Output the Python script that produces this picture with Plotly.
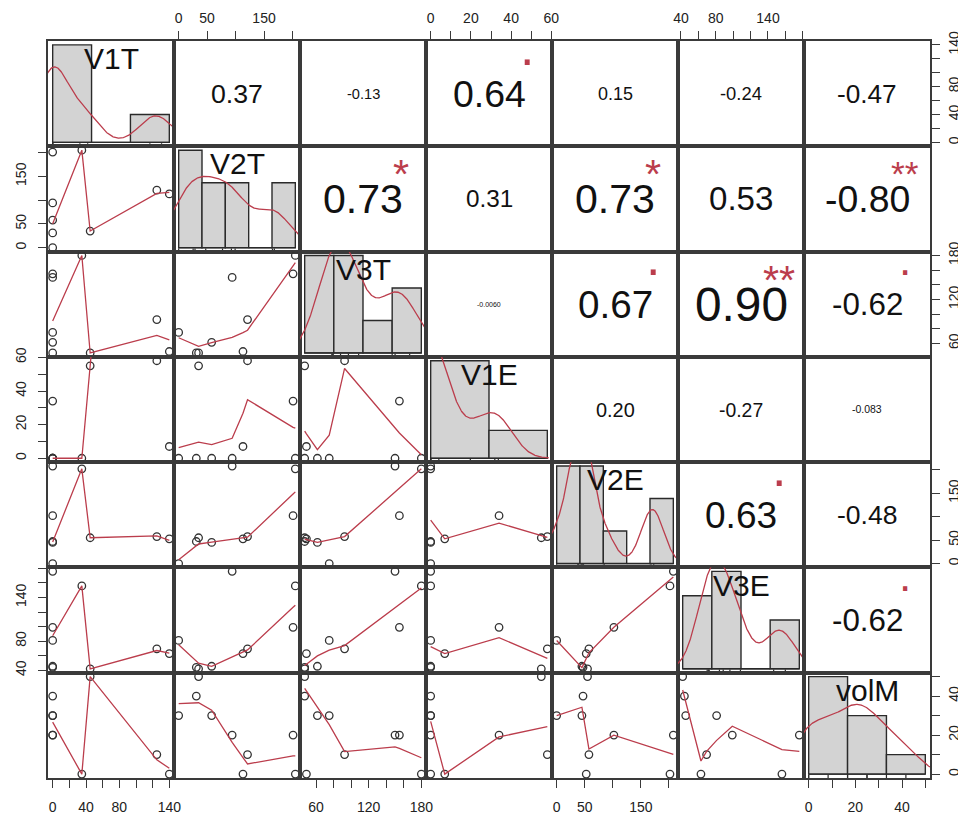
import numpy as np
import plotly.graph_objects as go

names = ["V1T", "V2T", "V3T", "V1E", "V2E", "V3E", "volM"]
V1T = [0, 0, 0, 0, 0, 35, 45, 125, 140]
V2T = [201, 94, 58, 31, 0, 205, 35, 121, 113]
V3T = [155, 150, 61.5, 47, 75, 180, 47, 92.5, 49]
V1E = [34, 0, 0, 0, 0, 0, 55, 58, 7]
V2E = [102, 208, 45, 47, 0, 202, 55, 57.5, 52.7]
V3E = [99, 176, 45.5, 44, 81, 156, 42, 69.5, 63]
volM = [20, 20, 30, 40, 30, 0, 50, 10, 0]
columns = [V1T, V2T, V3T, V1E, V2E, V3E, volM]

# histogram breaks (as drawn on the diagonal)
breaks_V1T = [0, 50, 100, 150]
breaks_V2T = [0, 50, 100, 150, 200, 250]
breaks_V3T = [0, 50, 100, 150, 200]
breaks_V1E = [0, 50, 100]
breaks_V2E = [0, 50, 100, 150, 200, 250]
breaks_V3E = [0, 50, 100, 150, 200]
breaks_volM = [0, 20, 40, 60]
hist_breaks = [breaks_V1T, breaks_V2T, breaks_V3T, breaks_V1E, breaks_V2E, breaks_V3E, breaks_volM]

# axis ticks and tick labels
ticks_V1T = [0, 20, 40, 60, 80, 100, 120, 140]
labels_V1T = ["0", "", "40", "", "80", "", "", "140"]
ticks_V2T = [0, 50, 100, 150, 200]
labels_V2T = ["0", "50", "", "150", ""]
ticks_V3T = [60, 80, 100, 120, 140, 160, 180]
labels_V3T = ["60", "", "", "120", "", "", "180"]
ticks_V1E = [0, 10, 20, 30, 40, 50, 60]
labels_V1E = ["0", "", "20", "", "40", "", "60"]
ticks_V2E = [0, 50, 100, 150, 200]
labels_V2E = ["0", "50", "", "150", ""]
ticks_V3E = [40, 60, 80, 100, 120, 140, 160, 180]
labels_V3E = ["40", "", "80", "", "", "140", "", ""]
ticks_volM = [0, 10, 20, 30, 40, 50]
labels_volM = ["0", "", "20", "", "40", ""]
tick_vals = [ticks_V1T, ticks_V2T, ticks_V3T, ticks_V1E, ticks_V2E, ticks_V3E, ticks_volM]
tick_text = [labels_V1T, labels_V2T, labels_V3T, labels_V1E, labels_V2E, labels_V3E, labels_volM]

# correlation labels (upper triangle, row by row) and significance symbols
cor_labels = [
    ["0.37", "-0.13", "0.64", "0.15", "-0.24", "-0.47"],
    ["0.73", "0.31", "0.73", "0.53", "-0.80"],
    ["-0.0060", "0.67", "0.90", "-0.62"],
    ["0.20", "-0.27", "-0.083"],
    ["0.63", "-0.48"],
    ["-0.62"],
]
cor_stars = [
    ["", "", ".", "", "", ""],
    ["*", "", "*", "", "**"],
    ["", ".", "**", "."],
    ["", "", ""],
    [".", ""],
    ["."],
]

# ---------------- helpers -------------
N = 7
# the page adds an 8px body margin, so the figure is 8px smaller and shifted
FIG_W, FIG_H = 958, 808
ML, MR, MT, MB = 40, 36, 33, 38
PANEL_W = (FIG_W - ML - MR) / N
LINE_C = "#3a3a3a"
SMOOTH_C = "#bb3d4c"
FONT = "Liberation Sans, Arial, Helvetica, sans-serif"


def ext(v):
    lo, hi = min(v), max(v)
    d = hi - lo
    return [lo - 0.04 * d, hi + 0.04 * d]


def axid(k):
    return "" if k == 1 else str(k)


ADV = {c: 0.556 for c in "0123456789"}
ADV.update({".": 0.278, "-": 0.333, "*": 0.389})


def em_width(s):
    return sum(ADV.get(c, 0.556) for c in s)


def _lowest(x, y, n, xs, nleft, nright, w, userw, rw):
    rng = x[n - 1] - x[0]
    h = max(xs - x[nleft], x[nright] - xs)
    h9, h1 = 0.999 * h, 0.001 * h
    a = 0.0
    j = nleft
    while j < n:
        w[j] = 0.0
        r = abs(x[j] - xs)
        if r <= h9:
            w[j] = 1.0 if r <= h1 else (1 - (r / h) ** 3) ** 3
            if userw:
                w[j] *= rw[j]
            a += w[j]
        elif x[j] > xs:
            break
        j += 1
    nrt = j - 1
    if a <= 0:
        return None
    for j in range(nleft, nrt + 1):
        w[j] /= a
    if h > 0:
        a = sum(w[j] * x[j] for j in range(nleft, nrt + 1))
        b = xs - a
        c = sum(w[j] * (x[j] - a) ** 2 for j in range(nleft, nrt + 1))
        if np.sqrt(c) > 0.001 * rng:
            b /= c
            for j in range(nleft, nrt + 1):
                w[j] *= (b * (x[j] - a) + 1)
    return sum(w[j] * y[j] for j in range(nleft, nrt + 1))


def lowess(xv, yv, f=2 / 3, nsteps=3):
    order = np.argsort(np.asarray(xv, float), kind="stable")
    x = [float(xv[o]) for o in order]
    y = [float(yv[o]) for o in order]
    n = len(x)
    delta = 0.01 * (x[-1] - x[0])
    ys = [0.0] * n
    rw = [1.0] * n
    w = [0.0] * n
    ns = max(2, min(n, int(f * n + 1e-7)))
    it = 1
    while it <= nsteps + 1:
        nleft, nright, last, i = 0, ns - 1, -1, 0
        while True:
            if nright < n - 1:
                d1 = x[i] - x[nleft]
                d2 = x[nright + 1] - x[i]
                if d1 > d2:
                    nleft += 1
                    nright += 1
                    continue
            val = _lowest(x, y, n, x[i], nleft, nright, w, it > 1, rw)
            ys[i] = y[i] if val is None else val
            if last < i - 1:
                denom = x[i] - x[last]
                for j in range(last + 1, i):
                    al = (x[j] - x[last]) / denom
                    ys[j] = al * ys[i] + (1 - al) * ys[last]
            last = i
            cut = x[last] + delta
            i = last + 1
            while i < n:
                if x[i] > cut:
                    break
                if x[i] == x[last]:
                    ys[i] = ys[last]
                    last = i
                i += 1
            i = max(last + 1, i - 1)
            if last >= n - 1:
                break
        res = [y[k] - ys[k] for k in range(n)]
        sc = sum(abs(r) for r in res) / n
        if it > nsteps:
            break
        srt = sorted(abs(r) for r in res)
        m1 = n // 2
        if n % 2 == 0:
            cmad = 3 * (srt[m1] + srt[n - m1 - 1])
        else:
            cmad = 6 * srt[m1]
        if cmad < 1e-7 * sc:
            break
        c9, c1 = 0.999 * cmad, 0.001 * cmad
        for k in range(n):
            r = abs(res[k])
            rw[k] = 1.0 if r <= c1 else ((1 - (r / cmad) ** 2) ** 2 if r <= c9 else 0.0)
        it += 1
    return x, ys


def density(v):
    x = np.asarray(v, float)
    n = len(x)
    hi = np.std(x, ddof=1)
    q75, q25 = np.percentile(x, [75, 25])
    lo = min(hi, (q75 - q25) / 1.34)
    if lo == 0:
        lo = hi if hi else (abs(x[0]) if x[0] else 1.0)
    bw = 0.9 * lo * n ** (-0.2)
    grid = np.linspace(x.min() - 3 * bw, x.max() + 3 * bw, 512)
    d = np.exp(-0.5 * ((grid[:, None] - x[None, :]) / bw) ** 2).sum(1) / (n * bw * np.sqrt(2 * np.pi))
    return grid, d


def rhist(v, br):
    counts = []
    for a in range(len(br) - 1):
        lo, hi = br[a], br[a + 1]
        counts.append(sum(1 for t in v if (t > lo or (a == 0 and t >= lo)) and t <= hi))
    n = len(v)
    dens = [c / (n * (br[a + 1] - br[a])) for a, c in enumerate(counts)]
    return dens


# ---------------- figure -------------
fig = go.Figure()
layout = dict(
    width=FIG_W, height=FIG_H,
    margin=dict(l=ML, r=MR, t=MT, b=MB, pad=0, autoexpand=False),
    paper_bgcolor="white", plot_bgcolor="white",
    showlegend=False,
    font=dict(family=FONT, color="#222"),
)
annotations = []

for i in range(N):
    for j in range(N):
        k = i * N + j + 1
        xd = [j / N, (j + 1) / N]
        yd = [1 - (i + 1) / N, 1 - i / N]
        common = dict(showgrid=False, zeroline=False, showline=True, mirror=True,
                      linecolor=LINE_C, linewidth=1.7, ticks="", showticklabels=False,
                      fixedrange=True, automargin=False)
        xa = dict(domain=xd, range=ext(columns[j]), anchor="y" + axid(k), **common)
        ya = dict(domain=yd, range=ext(columns[i]), anchor="x" + axid(k), **common)
        tick_style = dict(ticks="outside", ticklen=8, tickwidth=1.2, tickcolor=LINE_C,
                          showticklabels=True,
                          tickfont=dict(size=14, color="#222", family=FONT))
        if i == 0 and j % 2 == 1:
            xa.update(side="top", tickvals=tick_vals[j], ticktext=tick_text[j],
                      ticklabelstandoff=3, **tick_style)
        if i == N - 1 and j % 2 == 0:
            xa.update(side="bottom", tickvals=tick_vals[j], ticktext=tick_text[j],
                      ticklabelstandoff=7, **tick_style)
        if j == 0 and i % 2 == 1:
            ya.update(side="left", tickvals=tick_vals[i], ticktext=tick_text[i],
                      tickangle=-90, ticklabelstandoff=7, **tick_style)
        if j == N - 1 and i % 2 == 0:
            ya.update(side="right", tickvals=tick_vals[i], ticktext=tick_text[i],
                      tickangle=-90, ticklabelstandoff=2, **tick_style)
        layout["xaxis" + axid(k)] = xa
        layout["yaxis" + axid(k)] = ya
        xref, yref = "x" + axid(k), "y" + axid(k)

        if i > j:
            xv, yv = columns[j], columns[i]
            fig.add_trace(go.Scatter(
                x=xv, y=yv, mode="markers", xaxis=xref, yaxis=yref,
                marker=dict(symbol="circle-open", size=7.5, color="#333",
                            line=dict(width=1.3, color="#333")),
                hoverinfo="skip"))
            lx, ly = lowess(xv, yv)
            fig.add_trace(go.Scatter(
                x=lx, y=ly, mode="lines", xaxis=xref, yaxis=yref,
                line=dict(color=SMOOTH_C, width=1.3), hoverinfo="skip"))
            continue

        # empty placeholder so that the subplot (box, ticks) is created
        fig.add_trace(go.Scatter(x=[None], y=[None], mode="markers", xaxis=xref, yaxis=yref,
                                 hoverinfo="skip", showlegend=False))
        if i < j:
            txt = cor_labels[i][j - i - 1]
            star = cor_stars[i][j - i - 1]
            r = abs(float(txt))
            base = PANEL_W * 0.8 / em_width(txt)
            annotations.append(dict(
                xref=xref + " domain", yref=yref + " domain", x=0.5, y=0.5,
                text=txt, showarrow=False, xanchor="center", yanchor="middle",
                font=dict(size=base * (r + 0.3) / 1.3, color="#111", family=FONT)))
            if star:
                if "*" in star:
                    fs = 0.8 * base
                    yy, ysh = 0.785, -0.12 * fs
                else:
                    fs = base
                    yy, ysh = 0.80, 0.30 * fs
                annotations.append(dict(
                    xref=xref + " domain", yref=yref + " domain", x=0.8, y=yy,
                    yshift=ysh, text=star, showarrow=False, xanchor="center",
                    yanchor="middle", font=dict(size=fs, color=SMOOTH_C, family=FONT)))
        else:
            # diagonal: histogram + density on overlaid hidden axes
            hk = 50 + i
            br = hist_breaks[i]
            dens = rhist(columns[i], br)
            span = br[-1] - br[0]
            dmax = max(dens)
            layout["xaxis%d" % hk] = dict(overlaying="x" + axid(k), domain=xd,
                                          range=[br[0] - 0.04 * span, br[-1] + 0.04 * span],
                                          anchor="y%d" % hk, visible=False, fixedrange=True,
                                          automargin=False)
            layout["yaxis%d" % hk] = dict(overlaying="y" + axid(k), domain=yd,
                                          range=[-0.04 * dmax, 1.04 * dmax],
                                          anchor="x%d" % hk, visible=False, fixedrange=True,
                                          automargin=False)
            hx, hy = "x%d" % hk, "y%d" % hk
            centers = [(br[a] + br[a + 1]) / 2 for a in range(len(br) - 1)]
            widths = [br[a + 1] - br[a] for a in range(len(br) - 1)]
            fig.add_trace(go.Bar(
                x=centers, y=dens, width=widths, xaxis=hx, yaxis=hy,
                marker=dict(color="#d3d3d3", line=dict(color="#2a2a2a", width=1.4)),
                hoverinfo="skip"))
            # baseline of the histogram and rug ticks
            rx, ry = [br[0], br[-1], None], [0, 0, None]
            for t in columns[i]:
                rx += [t, t, None]
                ry += [-0.04 * dmax, -0.04 * dmax + 0.03 * 1.08 * dmax, None]
            fig.add_trace(go.Scatter(x=rx, y=ry, mode="lines", xaxis=hx, yaxis=hy,
                                     line=dict(color="#2a2a2a", width=1.2), hoverinfo="skip"))
            gx, gd = density(columns[i])
            fig.add_trace(go.Scatter(x=gx, y=gd, mode="lines", xaxis=hx, yaxis=hy,
                                     line=dict(color=SMOOTH_C, width=1.3), hoverinfo="skip"))
            annotations.append(dict(
                xref=xref + " domain", yref=yref + " domain", x=0.5, y=0.833,
                text=names[i], showarrow=False, xanchor="center", yanchor="middle",
                font=dict(size=30, color="#111", family=FONT)))

layout["annotations"] = annotations
fig.update_layout(**layout)
fig.write_html("out.html")
